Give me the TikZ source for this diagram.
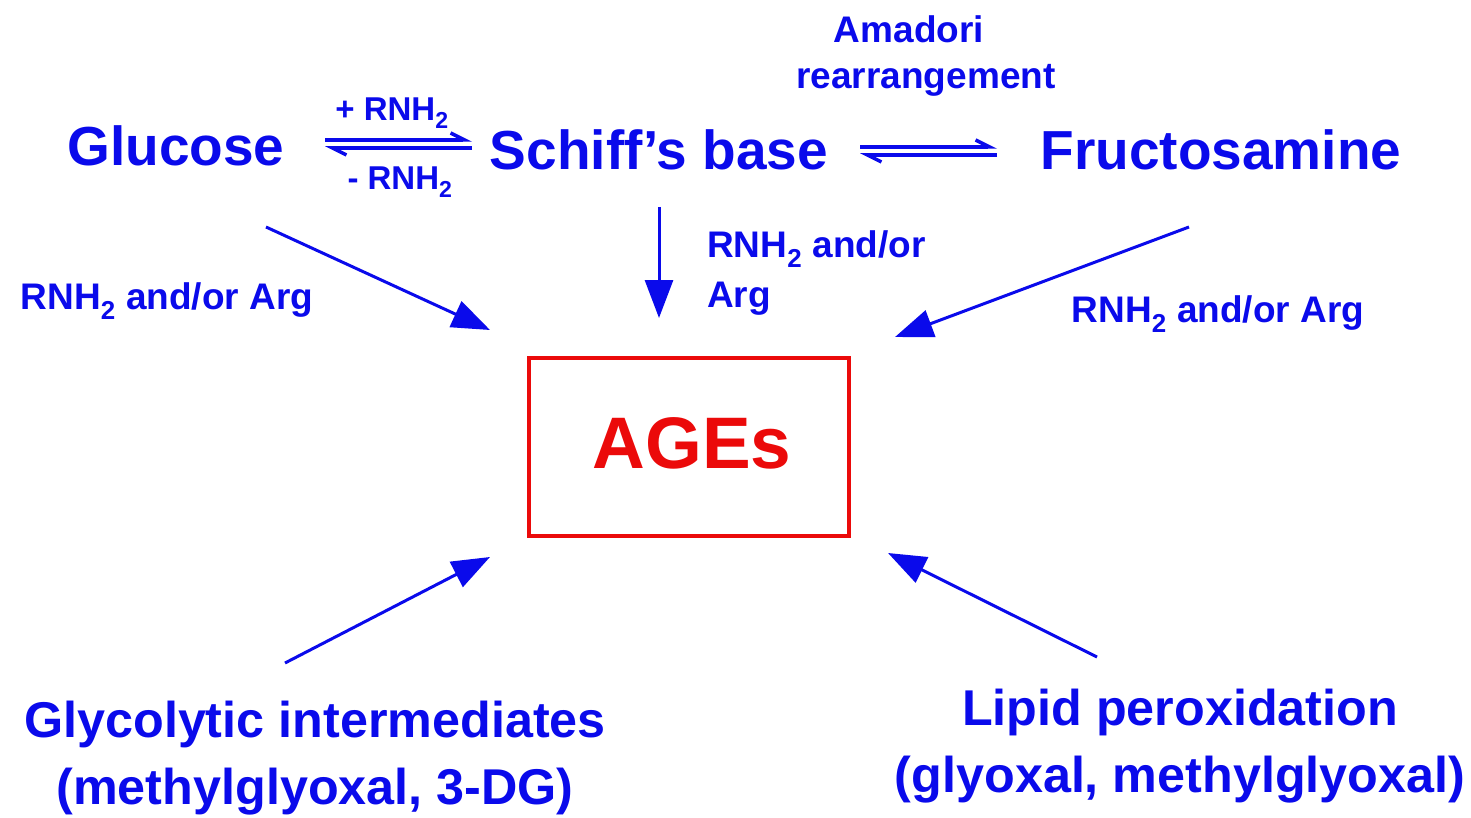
\documentclass[tikz,border=0pt]{standalone}
\usepackage{fontspec}
\setmainfont{Liberation Sans}
\usetikzlibrary{arrows.meta}
\definecolor{dblue}{RGB}{10,10,235}
\definecolor{dred}{RGB}{235,10,10}
\newcommand{\fsz}[1]{\fontsize{#1}{#1}\selectfont\bfseries}
\newcommand{\subtwo}{\textsubscript{2}}
\begin{document}
\begin{tikzpicture}[x=1pt,y=-1pt,
  lbl/.style={text=dblue,inner sep=0pt,font=\fsz{55}},
  small/.style={text=dblue,inner sep=0pt,font=\fsz{37}},
  tiny/.style={text=dblue,inner sep=0pt,font=\fsz{33}},
  bot/.style={text=dblue,inner sep=0pt,font=\fsz{50.3}},
  bigarrow/.style={draw=dblue,line width=3pt,-{Triangle[length=38pt,width=28pt]}},
  eq/.style={draw=dblue,line width=4pt,-{Straight Barb[left,length=14pt,width=14pt,line width=3.5pt]}}]
\useasboundingbox (0,0) rectangle (1471,818);
\node[lbl] (glu) at (176,146) {Glucose};
\node[lbl] (sch) at (659,150) {Schiff's base};
\node[lbl] (fru) at (1221,150) {Fructosamine};
\node[small] (ama) at (909,29) {Amadori};
\node[small] (rea) at (926,80) {rearrangement};
\node[tiny] (plus) at (392,113) {+ RNH\subtwo};
\node[tiny] (minus) at (400,182) {- RNH\subtwo};
\node[draw=dred,line width=3.5pt,minimum width=320pt,minimum height=178pt,inner sep=0pt] (box) at (689,447) {};
\node[text=dred,inner sep=0pt,font=\fsz{73}] (ages) at (692,443) {AGEs};
\node[small] (l1) at (167,301) {RNH\subtwo{} and/or Arg};
\node[small,anchor=west] (m1) at (707,249) {RNH\subtwo{} and/or};
\node[small,anchor=west] (m2) at (707,299) {Arg};
\node[small] (r1) at (1218,314) {RNH\subtwo{} and/or Arg};
\node[bot] (g1) at (315,724) {Glycolytic intermediates};
\node[bot] (g2) at (315,792) {(methylglyoxal, 3-DG)};
\node[bot] (p1) at (1180,712) {Lipid peroxidation};
\node[bot] (p2) at (1180,780) {(glyoxal, methylglyoxal)};
% equilibrium arrows
\coordinate (e1a) at (325,140); \coordinate (e1b) at (472,140);
\coordinate (e1c) at (472,148); \coordinate (e1d) at (325,148);
\draw[eq] (e1a) -- (e1b);
\draw[eq] (e1c) -- (e1d);
\coordinate (e2a) at (860,147); \coordinate (e2b) at (997,147);
\coordinate (e2c) at (997,155); \coordinate (e2d) at (860,155);
\draw[eq] (e2a) -- (e2b);
\draw[eq] (e2c) -- (e2d);
% big arrows
\coordinate (a1s) at (266,227); \coordinate (a1e) at (490,330);
\coordinate (a2s) at (659,207); \coordinate (a2e) at (659,318);
\coordinate (a3s) at (1189,227); \coordinate (a3e) at (895,337);
\coordinate (a4s) at (285,663); \coordinate (a4e) at (490,557);
\coordinate (a5s) at (1097,657); \coordinate (a5e) at (888,553);
\draw[bigarrow] (a1s) -- (a1e);
\draw[bigarrow] (a2s) -- (a2e);
\draw[bigarrow] (a3s) -- (a3e);
\draw[bigarrow] (a4s) -- (a4e);
\draw[bigarrow] (a5s) -- (a5e);
\end{tikzpicture}
\end{document}
